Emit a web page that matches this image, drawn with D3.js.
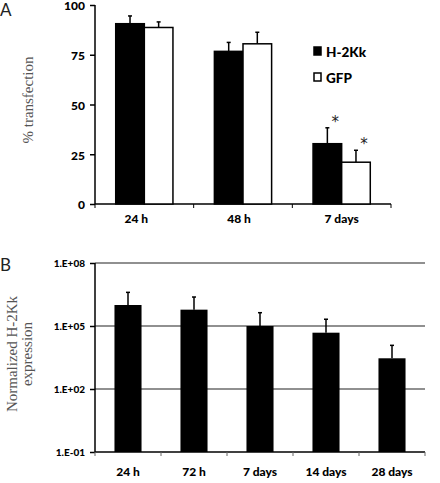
<!DOCTYPE html>
<html><head><meta charset="utf-8">
<script src="https://cdn.jsdelivr.net/npm/d3@7"></script>
<style>body{margin:0;background:#fff}svg{display:block}</style>
</head><body><svg id="c" width="440" height="483"></svg>
<script>
// Panel A data
const catsA = ["24 h", "48 h", "7 days"];
const seriesA = ["H-2Kk", "GFP"];
const h2kk = [90.6, 76.7, 30.3];
const h2kkErr = [3.9, 4.5, 8.0];
const gfp = [88.7, 80.5, 21.0];
const gfpErr = [2.8, 5.8, 6.0];
const sigA = [false, false, true];
const ticksA = [0, 25, 50, 75, 100];
// Panel B data
const catsB = ["24 h", "72 h", "7 days", "14 days", "28 days"];
const exprB = [1.0e6, 6.0e5, 1.0e5, 4.8e4, 2.9e3];
const exprBUpper = [4.0e6, 2.4e6, 4.3e5, 2.1e5, 1.2e4];
const ticksB = [1e-1, 1e2, 1e5, 1e8];
const tickLabelsB = ["1.E-01", "1.E+02", "1.E+05", "1.E+08"];

const svg = d3.select("#c");
const tickFont = "Lato, 'Open Sans', sans-serif";
const serif = "'Liberation Serif', 'DejaVu Serif', serif";

// ---------- Panel A ----------
const gA = svg.append("g");
const xA = d3.scaleBand().domain(catsA).range([95, 391]).paddingInner(0.42).paddingOuter(0.21);
const xA2 = d3.scaleBand().domain(seriesA).range([0, xA.bandwidth()]);
const yA = d3.scaleLinear().domain([0, 100]).range([204, 5]);

const yAxA = gA.append("g").attr("transform", "translate(95,0)")
  .call(d3.axisLeft(yA).tickValues(ticksA).tickSize(5).tickPadding(5));
yAxA.select(".domain").attr("stroke", "#000").attr("stroke-width", 1.5).attr("d", "M0,204V5");
yAxA.selectAll("line").attr("stroke-width", 1.5);
yAxA.selectAll("text").attr("font-family", tickFont).attr("font-weight", "900").attr("font-size", 12).attr("fill", "#000").attr("dy", "0.4em");

// x axis with ticks at category boundaries
const bandStepA = (391 - 95) / catsA.length;
gA.append("line").attr("x1", 95).attr("x2", 391).attr("y1", 204).attr("y2", 204).attr("stroke", "#000").attr("stroke-width", 1.5);
gA.selectAll(".xtA").data(d3.range(catsA.length + 1)).enter().append("line")
  .attr("x1", i => 95 + i * bandStepA).attr("x2", i => 95 + i * bandStepA)
  .attr("y1", 204).attr("y2", 208).attr("stroke", "#000").attr("stroke-width", 1);
gA.selectAll(".xlA").data(catsA).enter().append("text")
  .attr("x", (d, i) => 95 + (i + 0.5) * bandStepA - 8 + i * 4).attr("y", 223)
  .attr("text-anchor", "middle").attr("font-family", tickFont).attr("font-weight", "900").attr("font-size", 12).text(d => d);

const barDataA = [];
catsA.forEach((c, i) => {
  barDataA.push({c, s: "H-2Kk", v: h2kk[i], e: h2kkErr[i], sig: sigA[i]});
  barDataA.push({c, s: "GFP", v: gfp[i], e: gfpErr[i], sig: sigA[i]});
});
const bA = gA.selectAll(".barA").data(barDataA).enter().append("g");
bA.append("line")
  .attr("x1", d => xA(d.c) + xA2(d.s) + xA2.bandwidth() / 2).attr("x2", d => xA(d.c) + xA2(d.s) + xA2.bandwidth() / 2)
  .attr("y1", d => yA(d.v)).attr("y2", d => yA(d.v + d.e)).attr("stroke", "#000").attr("stroke-width", 1.5);
bA.append("line")
  .attr("x1", d => xA(d.c) + xA2(d.s) + xA2.bandwidth() / 2 - 2).attr("x2", d => xA(d.c) + xA2(d.s) + xA2.bandwidth() / 2 + 2)
  .attr("y1", d => yA(d.v + d.e)).attr("y2", d => yA(d.v + d.e)).attr("stroke", "#000").attr("stroke-width", 1.5);
bA.append("rect")
  .attr("x", d => xA(d.c) + xA2(d.s)).attr("width", xA2.bandwidth())
  .attr("y", d => yA(d.v)).attr("height", d => yA(0) - yA(d.v))
  .attr("fill", d => d.s === "H-2Kk" ? "#000" : "#fff").attr("stroke", "#000").attr("stroke-width", 1.5);
bA.filter(d => d.sig).append("text")
  .attr("x", d => xA(d.c) + xA2(d.s) + xA2.bandwidth() / 2 + 8).attr("y", d => yA(d.v + d.e) - 1)
  .attr("text-anchor", "middle").attr("font-family", "'DejaVu Sans', sans-serif").attr("font-size", 15)
  .attr("fill", "#222").text("*");

// legend
const legA = gA.append("g");
seriesA.forEach((s, i) => {
  legA.append("rect").attr("x", 314).attr("y", 47 + i * 26).attr("width", 7).attr("height", 8)
    .attr("fill", i === 0 ? "#000" : "#fff").attr("stroke", "#000").attr("stroke-width", 1.5);
  legA.append("text").attr("x", 326).attr("y", 57 + i * 26).attr("font-family", tickFont).attr("font-weight", "900")
    .attr("font-size", 13.5).text(s);
});

gA.append("text").attr("transform", "translate(33,100) rotate(-90)").attr("text-anchor", "middle")
  .attr("font-family", serif).attr("font-size", 15).attr("fill", "#555").text("% transfection");
gA.append("text").attr("x", 0).attr("y", 16).attr("font-family", "Lato, sans-serif").attr("font-size", 17).attr("fill", "#222").text("A");

// ---------- Panel B ----------
const gB = svg.append("g");
const xB = d3.scaleBand().domain(catsB).range([95, 425]).paddingInner(0.59).paddingOuter(0.295);
const yB = d3.scaleLog().domain([1e-1, 1e8]).range([452, 263]);

gB.selectAll(".grid").data(ticksB.slice(1)).enter().append("line")
  .attr("x1", 95).attr("x2", 425).attr("y1", d => yB(d)).attr("y2", d => yB(d)).attr("stroke", "#222").attr("stroke-width", 1.2);
const yAxB = gB.append("g").attr("transform", "translate(95,0)")
  .call(d3.axisLeft(yB).tickValues(ticksB).tickFormat((d, i) => tickLabelsB[i]).tickSize(5).tickPadding(5));
yAxB.select(".domain").attr("stroke", "#000").attr("stroke-width", 1.5).attr("d", "M0,452V263");
yAxB.selectAll("line").attr("stroke-width", 1.5);
yAxB.selectAll("text").attr("font-family", tickFont).attr("font-weight", "900").attr("font-size", 10).attr("fill", "#000");

const bandStepB = (425 - 95) / catsB.length;
gB.append("line").attr("x1", 95).attr("x2", 425).attr("y1", 452).attr("y2", 452).attr("stroke", "#000").attr("stroke-width", 1.5);
gB.selectAll(".xtB").data(d3.range(catsB.length + 1)).enter().append("line")
  .attr("x1", i => 95 + i * bandStepB).attr("x2", i => 95 + i * bandStepB)
  .attr("y1", 452).attr("y2", 456).attr("stroke", "#666").attr("stroke-width", 1);
gB.selectAll(".xlB").data(catsB).enter().append("text")
  .attr("x", (d, i) => 95 + (i + 0.5) * bandStepB).attr("y", 476)
  .attr("text-anchor", "middle").attr("font-family", tickFont).attr("font-weight", "900").attr("font-size", 12).text(d => d);

const barDataB = catsB.map((c, i) => ({c, v: exprB[i], u: exprBUpper[i]}));
const bB = gB.selectAll(".barB").data(barDataB).enter().append("g");
bB.append("line")
  .attr("x1", d => xB(d.c) + xB.bandwidth() / 2).attr("x2", d => xB(d.c) + xB.bandwidth() / 2)
  .attr("y1", d => yB(d.v)).attr("y2", d => yB(d.u)).attr("stroke", "#000").attr("stroke-width", 1.5);
bB.append("line")
  .attr("x1", d => xB(d.c) + xB.bandwidth() / 2 - 2).attr("x2", d => xB(d.c) + xB.bandwidth() / 2 + 2)
  .attr("y1", d => yB(d.u)).attr("y2", d => yB(d.u)).attr("stroke", "#000").attr("stroke-width", 1.5);
bB.append("rect")
  .attr("x", d => xB(d.c)).attr("width", xB.bandwidth())
  .attr("y", d => yB(d.v)).attr("height", d => yB(1e-1) - yB(d.v))
  .attr("fill", "#000");

gB.append("text").attr("transform", "translate(17,354) rotate(-90)").attr("text-anchor", "middle")
  .attr("font-family", serif).attr("font-size", 15).attr("fill", "#555").text("Normalized H-2Kk");
gB.append("text").attr("transform", "translate(32,354) rotate(-90)").attr("text-anchor", "middle")
  .attr("font-family", serif).attr("font-size", 15).attr("fill", "#555").text("expression");
gB.append("text").attr("x", 0).attr("y", 271).attr("font-family", "Lato, sans-serif").attr("font-size", 17).attr("fill", "#222").text("B");
</script></body></html>
